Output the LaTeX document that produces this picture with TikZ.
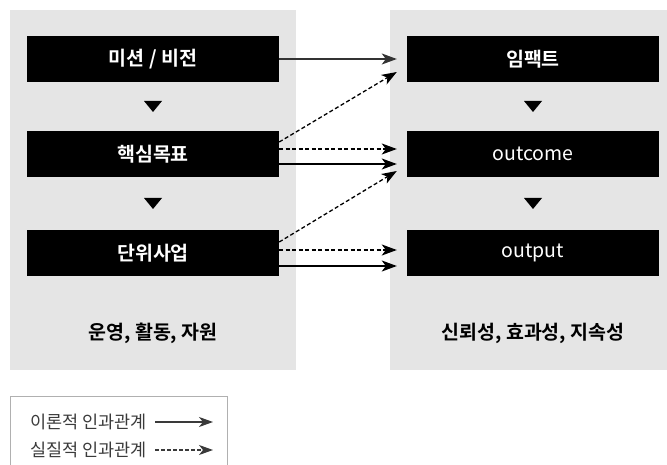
\documentclass[tikz,border=0pt]{standalone}
\usepackage{fontspec}
\setmainfont{Noto Sans CJK KR}[BoldFont={Noto Sans CJK KR Bold}]
\usetikzlibrary{arrows.meta}
\definecolor{panelgray}{HTML}{E5E5E5}
\definecolor{legendgray}{HTML}{B0B0B0}
\definecolor{legendtext}{HTML}{3A3A3A}
\tikzset{
  panel/.style={fill=panelgray, draw=none, inner sep=0pt},
  blackbox/.style={fill=black, draw=none, text=white, minimum width=252pt, minimum height=46pt, inner sep=0pt, font=\fontsize{19.5}{22}\selectfont\bfseries},
  latinbox/.style={blackbox, font=\fontsize{19.5}{22}\selectfont\mdseries},
  tri/.style={fill=black},
  sublabel/.style={font=\fontsize{19.5}{22}\selectfont\bfseries, text=black, inner sep=0pt},
  link/.style={line width=1.3pt, -{Stealth[length=15pt,width=11pt,inset=4pt]}},
  solidlink/.style={link},
  dashlink/.style={link, dash pattern=on 4pt off 2.5pt},
  legendframe/.style={draw=legendgray, line width=1pt},
  legendlabel/.style={font=\fontsize{17.5}{20}\selectfont, text=legendtext, inner sep=0pt, anchor=west},
  legendlink/.style={draw=legendtext, line width=1.2pt, -{Stealth[length=14pt,width=10pt,inset=4pt]}}
}
\begin{document}
\begin{tikzpicture}[x=1pt,y=-1pt]
\useasboundingbox (0,0) rectangle (667,465);
% panels
\node[panel, minimum width=286pt, minimum height=360pt] (lp) at (153,190) {};
\node[panel, minimum width=277pt, minimum height=360pt] (rp) at (528.5,190) {};
% left boxes
\node[blackbox] (l1) at (153,59) {미션 / 비전};
\node[blackbox] (l2) at (153,154) {핵심목표};
\node[blackbox] (l3) at (153,253) {단위사업};
% right boxes
\node[blackbox] (r1) at (533,59) {임팩트};
\node[latinbox] (r2) at (533,154) {outcome};
\node[latinbox] (r3) at (533,253) {output};
% triangles
\fill[tri] (144,101) -- (162,101) -- (153,112) -- cycle;
\fill[tri] (144,198) -- (162,198) -- (153,209) -- cycle;
\fill[tri] (524,101) -- (542,101) -- (533,112) -- cycle;
\fill[tri] (524,198) -- (542,198) -- (533,209) -- cycle;
% bottom labels
\node[sublabel] (lb) at (153,333) {운영, 활동, 자원};
\node[sublabel] (rb) at (533,333) {신뢰성, 효과성, 지속성};
% connectors
\draw[solidlink, draw=black!80] (l1.east) -- ([xshift=-10pt]r1.west);
\draw[dashlink] ([yshift=12pt]l2.east) -- ([xshift=-10pt,yshift=-13pt]r1.west);
\draw[dashlink] ([yshift=5pt]l2.east) -- ([xshift=-10pt,yshift=5pt]r2.west);
\draw[solidlink] ([yshift=-10pt]l2.east) -- ([xshift=-10pt,yshift=-10pt]r2.west);
\draw[dashlink] ([yshift=11pt]l3.east) -- ([xshift=-10pt,yshift=-17pt]r2.west);
\draw[dashlink] ([yshift=3pt]l3.east) -- ([xshift=-10pt,yshift=3pt]r3.west);
\draw[solidlink] ([yshift=-13pt]l3.east) -- ([xshift=-10pt,yshift=-13pt]r3.west);
% legend
\draw[legendframe] (10,466) -- (10,396.5) -- (227,396.5) -- (227,466);
\node[legendlabel] (t1) at (30,422) {이론적 인과관계};
\node[legendlabel] (t2) at (30,450) {실질적 인과관계};
\coordinate (a1s) at (155,422);
\coordinate (a1e) at (213,422);
\coordinate (a2s) at (155,450);
\coordinate (a2e) at (213,450);
\draw[legendlink] (a1s) -- (a1e);
\draw[legendlink, dash pattern=on 3.5pt off 2.5pt] (a2s) -- (a2e);
\end{tikzpicture}
\end{document}
